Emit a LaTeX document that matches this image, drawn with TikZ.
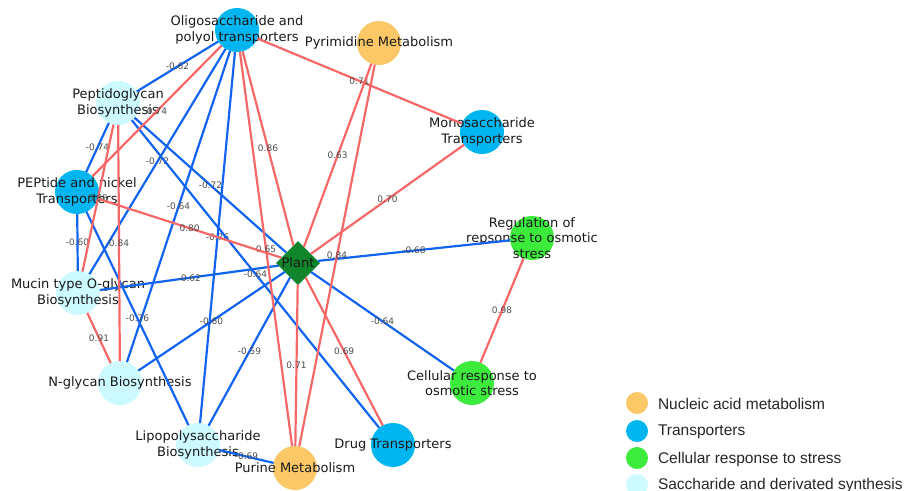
\documentclass[tikz,border=0pt]{standalone}
\usepackage{fontspec}
\setmainfont{DejaVu Sans}
\newfontfamily\legendfont{Liberation Sans}
\usetikzlibrary{shapes.geometric}
\definecolor{nucleic}{RGB}{252,199,102}
\definecolor{transp}{RGB}{0,182,240}
\definecolor{stress}{RGB}{60,235,60}
\definecolor{sacch}{RGB}{204,250,255}
\definecolor{plantgreen}{RGB}{17,133,43}
\definecolor{negblue}{RGB}{18,100,240}
\definecolor{posred}{RGB}{246,104,104}
\begin{document}
\begin{tikzpicture}[x=1pt,y=-1pt,every node/.style={inner sep=0pt, outer sep=0pt},
  term/.style={circle, minimum size=44pt},
  nuc/.style={term, fill=nucleic},
  trn/.style={term, fill=transp},
  strs/.style={term, fill=stress},
  sac/.style={term, fill=sacch},
  lbl/.style={font=\fontsize{13}{15.5}\selectfont, align=center, text=black!90},
  posedge/.style={draw=posred, line width=2.2pt},
  negedge/.style={draw=negblue, line width=2.2pt},
  wt/.style={font=\fontsize{9}{9}\selectfont, text=black!70},
  legdot/.style={circle, minimum size=22pt},
  legtext/.style={anchor=west, font=\legendfont\fontsize{15.5}{15.5}\selectfont, text=black!85}]
\useasboundingbox (0,0) rectangle (909,490);

% terms
\node[trn, label={[lbl]center:{Oligosaccharide and\\polyol transporters}}] (oligo) at (237,30) {};
\node[nuc, label={[lbl]center:Pyrimidine Metabolism}] (pyri) at (379,43) {};
\node[trn, label={[lbl]center:{Monosaccharide\\Transporters}}] (mono) at (482,132) {};
\node[sac, label={[lbl]center:{Peptidoglycan\\Biosynthesis}}] (pepti) at (118,103) {};
\node[trn, label={[lbl]center:{PEPtide and nickel\\Transporters}}] (pep) at (77,192) {};
\node[sac, label={[lbl]center:{Mucin type O-glycan\\Biosynthesis}}] (mucin) at (78,293) {};
\node[sac, label={[lbl]center:N-glycan Biosynthesis}] (nglyc) at (120,383) {};
\node[sac, label={[lbl]center:{Lipopolysaccharide\\Biosynthesis}}] (lipo) at (198,445) {};
\node[nuc, label={[lbl]center:Purine Metabolism}] (purine) at (295,468) {};
\node[trn, label={[lbl]center:Drug Transporters}] (drug) at (393,445) {};
\node[strs, label={[lbl]center:{Cellular response to\\osmotic stress}}] (cell) at (472,383) {};
\node[strs, label={[lbl]center:{Regulation of\\repsonse to osmotic\\stress}}] (regul) at (532,238) {};
\node[diamond, fill=plantgreen, minimum size=44pt, label={[lbl]center:Plant}] (plant) at (298,263) {};

% negative correlations
\draw[negedge] (oligo) -- node[wt]{-0.62} (pepti);
\draw[negedge] (oligo) -- node[wt]{-0.72} (mucin);
\draw[negedge] (oligo) -- node[wt]{-0.64} (nglyc);
\draw[negedge] (oligo) -- node[wt]{-0.76} (lipo);
\draw[negedge] (pepti) -- node[wt]{-0.74} (pep);
\draw[negedge] (pepti) -- node[wt]{-0.72} (plant);
\draw[negedge] (pepti) -- node[wt]{-0.64} (drug);
\draw[negedge] (pep) -- node[wt]{-0.60} (mucin);
\draw[negedge] (pep) -- node[wt]{-0.76} (lipo);
\draw[negedge] (mucin) -- node[wt]{-0.62} (plant);
\draw[negedge] (nglyc) -- node[wt]{-0.60} (plant);
\draw[negedge] (lipo) -- node[wt]{-0.59} (plant);
\draw[negedge] (lipo) -- node[wt]{-0.69} (purine);
\draw[negedge] (plant) -- node[wt]{-0.68} (regul);
\draw[negedge] (plant) -- node[wt]{-0.64} (cell);

% positive correlations
\draw[posedge] (oligo) -- node[wt]{0.74} (pep);
\draw[posedge] (oligo) -- node[wt]{0.86} (plant);
\draw[posedge] (oligo) -- node[wt]{0.65} (purine);
\draw[posedge] (oligo) -- node[wt]{0.71} (mono);
\draw[posedge] (pepti) -- node[wt]{0.65} (mucin);
\draw[posedge] (pepti) -- node[wt]{0.84} (nglyc);
\draw[posedge] (pep) -- node[wt]{0.80} (plant);
\draw[posedge] (mucin) -- node[wt]{0.91} (nglyc);
\draw[posedge] (pyri) -- node[wt]{0.63} (plant);
\draw[posedge] (pyri) -- node[wt]{0.84} (purine);
\draw[posedge] (mono) -- node[wt]{0.70} (plant);
\draw[posedge] (plant) -- node[wt]{0.69} (drug);
\draw[posedge] (plant) -- node[wt]{0.71} (purine);
\draw[posedge] (regul) -- node[wt]{0.98} (cell);

% legend
\node[legdot, fill=nucleic] (k1) at (637,403) {};
\node[legtext] (t1) at (658,404) {Nucleic acid metabolism};
\node[legdot, fill=transp] (k2) at (637,431) {};
\node[legtext] (t2) at (658,432) {Transporters};
\node[legdot, fill=stress] (k3) at (637,458) {};
\node[legtext] (t3) at (658,459) {Cellular response to stress};
\node[legdot, fill=sacch] (k4) at (637,485) {};
\node[legtext] (t4) at (658,485) {Saccharide and derivated synthesis};
\end{tikzpicture}
\end{document}
